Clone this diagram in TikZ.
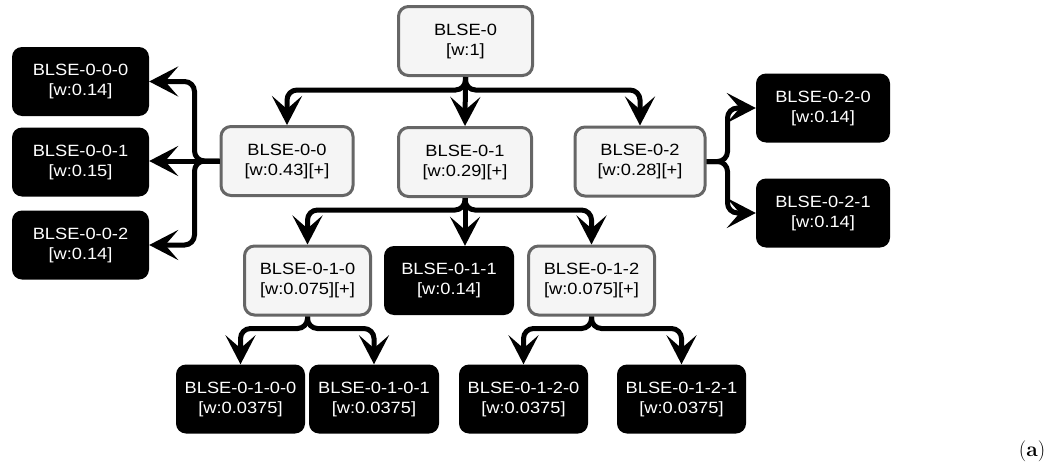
\documentclass[tikz,border=0pt]{standalone}
\usepackage{fontspec}
\setsansfont{Liberation Sans}[FakeStretch=1.12]
\usetikzlibrary{arrows.meta,calc}
\definecolor{lightfill}{HTML}{F5F5F5}
\definecolor{lightdraw}{HTML}{666666}
\begin{document}
\begin{tikzpicture}[x=1pt,y=-1pt,
  box/.style={rectangle,rounded corners=10pt,minimum height=69pt,inner sep=0pt,align=center,
    font=\sffamily\fontsize{16.3}{20}\selectfont},
  inner/.style={box,fill=lightfill,draw=lightdraw,line width=3pt},
  leaf/.style={box,fill=black,text=white},
  tip/.tip={Stealth[length=29pt 0 0,width=30pt 0 0,inset=13pt 0]},
  edge/.style={line width=5pt,-tip}]
\path[use as bounding box] (0,0) rectangle (1053,463);

% nodes
\node[inner,minimum width=134pt] (n0) at (465.5,41) {BLSE-0\\{}[w:1]};
\node[inner,minimum width=132pt] (n00) at (287,161) {BLSE-0-0\\{}[w:0.43][+]};
\node[inner,minimum width=133pt] (n01) at (465,162) {BLSE-0-1\\{}[w:0.29][+]};
\node[inner,minimum width=130pt] (n02) at (640,161.5) {BLSE-0-2\\{}[w:0.28][+]};

\node[leaf,minimum width=137pt] (n000) at (80.5,81.5) {BLSE-0-0-0\\{}[w:0.14]};
\node[leaf,minimum width=137pt] (n001) at (80.5,162) {BLSE-0-0-1\\{}[w:0.15]};
\node[leaf,minimum width=137pt] (n002) at (80.5,245) {BLSE-0-0-2\\{}[w:0.14]};

\node[leaf,minimum width=134pt] (n020) at (823,108) {BLSE-0-2-0\\{}[w:0.14]};
\node[leaf,minimum width=134pt] (n021) at (823,213) {BLSE-0-2-1\\{}[w:0.14]};

\node[inner,minimum width=126pt] (n010) at (307.5,280.5) {BLSE-0-1-0\\{}[w:0.075][+]};
\node[leaf,minimum width=130pt] (n011) at (449,280.5) {BLSE-0-1-1\\{}[w:0.14]};
\node[inner,minimum width=126pt] (n012) at (591.5,280.5) {BLSE-0-1-2\\{}[w:0.075][+]};

\node[leaf,minimum width=129pt] (n0100) at (240.5,399) {BLSE-0-1-0-0\\{}[w:0.0375]};
\node[leaf,minimum width=130pt] (n0101) at (374,399) {BLSE-0-1-0-1\\{}[w:0.0375]};
\node[leaf,minimum width=129pt] (n0120) at (523.5,399) {BLSE-0-1-2-0\\{}[w:0.0375]};
\node[leaf,minimum width=129pt] (n0121) at (681.5,399) {BLSE-0-1-2-1\\{}[w:0.0375]};

\node (lbl) at (1032,451) {\fontsize{21}{24}\selectfont(\textbf{a})};

% edges
\draw[edge] (n0.south) {[rounded corners=10pt] -- ++(0,13) -| (n00.north)};
\draw[edge] (n0.south) -- (n01.north);
\draw[edge] (n0.south) {[rounded corners=10pt] -- ++(0,13) -| (n02.north)};

\draw[edge] (n00.west) {[rounded corners=10pt] -- ++(-25,0) |- (n000.east)};
\draw[edge] (n00.west) -- (n00.west -| n001.east);
\draw[edge] (n00.west) {[rounded corners=10pt] -- ++(-25,0) |- (n002.east)};

\draw[edge] (n02.east) {[rounded corners=10pt] -- ++(21,0) |- (n020.west)};
\draw[edge] (n02.east) {[rounded corners=10pt] -- ++(21,0) |- (n021.west)};

\draw[edge] (n01.south) {[rounded corners=10pt] -- ++(0,12) -| (n010.north)};
\draw[edge] (n01.south) -- (n01.south |- n011.north);
\draw[edge] (n01.south) {[rounded corners=10pt] -- ++(0,12) -| (n012.north)};

\draw[edge] (n010.south) {[rounded corners=10pt] -- ++(0,12) -| (n0100.north)};
\draw[edge] (n010.south) {[rounded corners=10pt] -- ++(0,12) -| (n0101.north)};

\draw[edge] (n012.south) {[rounded corners=10pt] -- ++(0,12) -| (n0120.north)};
\draw[edge] (n012.south) {[rounded corners=10pt] -- ++(0,12) -| (n0121.north)};
\end{tikzpicture}
\end{document}
